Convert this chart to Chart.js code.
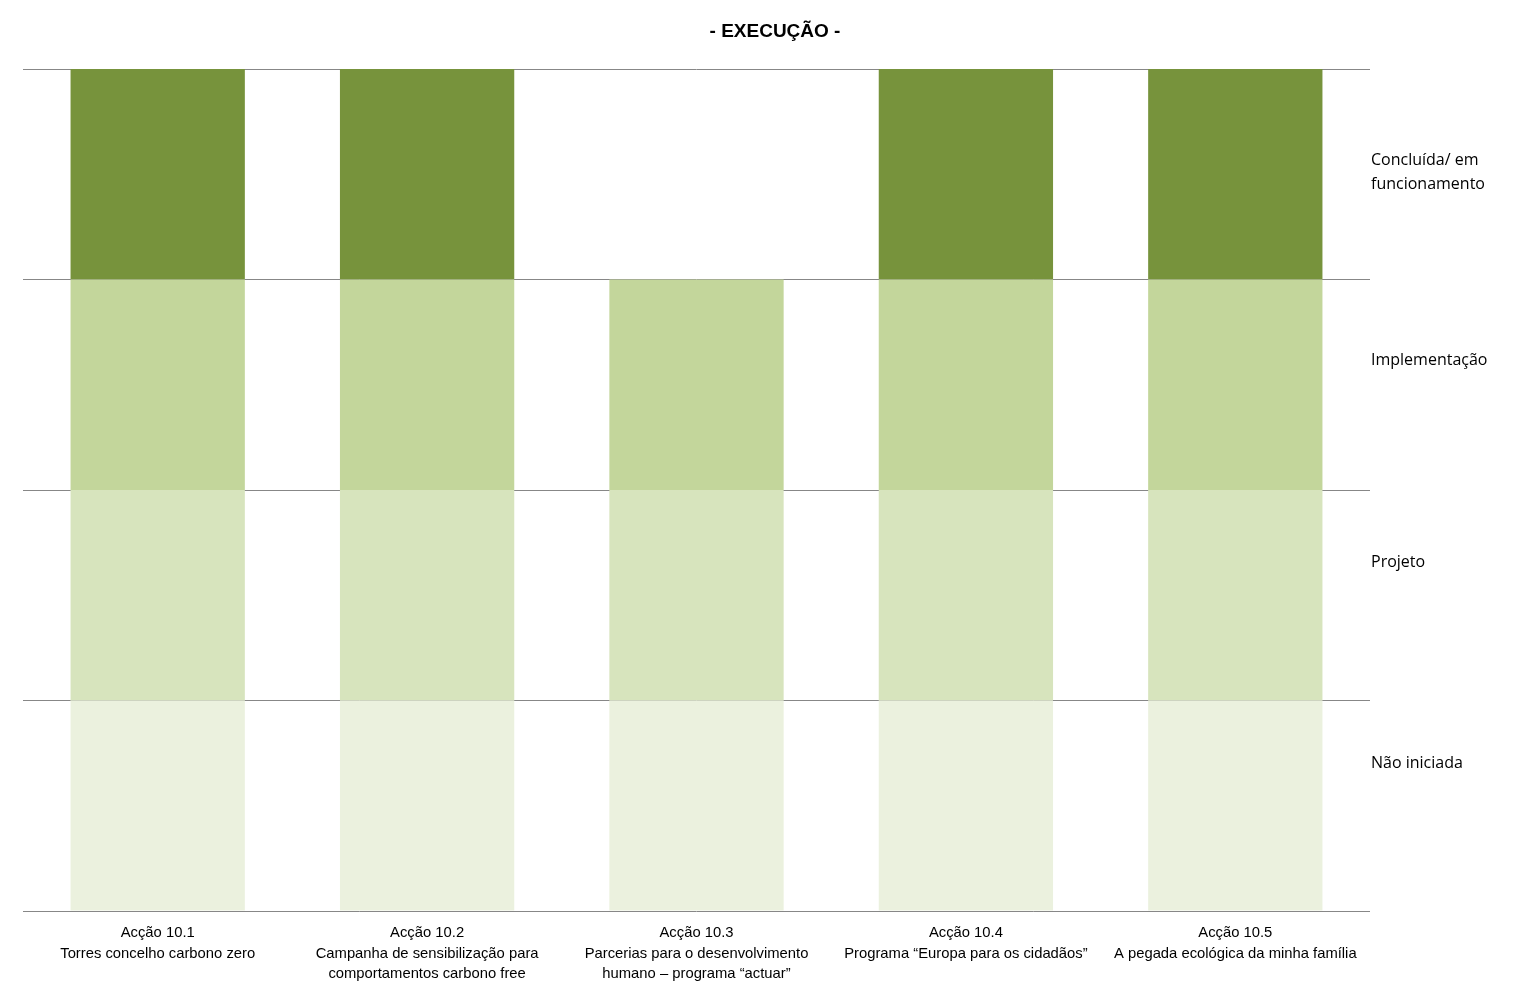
<!DOCTYPE html>
<html>
<head>
<meta charset="utf-8">
<script src="https://cdn.jsdelivr.net/npm/chart.js@4.4.0/dist/chart.umd.min.js"></script>
<style>
html,body{margin:0;padding:0;background:#fff;overflow:hidden;}
canvas{display:block;}
</style>
</head>
<body>
<canvas id="c" width="1527" height="997"></canvas>
<script>
const categories = [
  ["Acção 10.1", "Torres concelho carbono zero"],
  ["Acção 10.2", "Campanha de sensibilização para", "comportamentos carbono free"],
  ["Acção 10.3", "Parcerias para o desenvolvimento", "humano – programa “actuar”"],
  ["Acção 10.4", "Programa “Europa para os cidadãos”"],
  ["Acção 10.5", "A pegada ecológica da minha família"]
];
const naoIniciada   = [1, 1, 1, 1, 1];
const projeto       = [1, 1, 1, 1, 1];
const implementacao = [1, 1, 1, 1, 1];
const concluida     = [1, 1, 0, 1, 1];

const gridTicks = [0, 1, 2, 3, 4];
const stagePositions = [0.70, 1.655, 2.615, 3.51];
const stageLabels = [["Não iniciada"], ["Projeto"], ["Implementação"], ["Concluída/ em", "funcionamento"]];

const colors = ["#EBF1DE", "#D7E4BD", "#C3D69B", "#77933C"];

Chart.defaults.font.family = "'Liberation Sans', Arial, sans-serif";
Chart.defaults.color = "#000";

new Chart(document.getElementById('c'), {
  type: 'bar',
  data: {
    labels: categories,
    datasets: [
      {label: 'Não iniciada', data: naoIniciada, backgroundColor: colors[0]},
      {label: 'Projeto', data: projeto, backgroundColor: colors[1]},
      {label: 'Implementação', data: implementacao, backgroundColor: colors[2]},
      {label: 'Concluída/ em funcionamento', data: concluida, backgroundColor: colors[3]}
    ]
  },
  options: {
    responsive: false,
    animation: false,
    devicePixelRatio: 1,
    layout: {padding: {left: 23, right: 0, top: 0, bottom: 0}},
    datasets: {bar: {barPercentage: 0.647, categoryPercentage: 1, borderWidth: 0}},
    plugins: {
      legend: {display: false},
      tooltip: {enabled: false},
      title: {
        display: true,
        text: '- EXECUÇÃO -',
        font: {size: 19, weight: 'bold', lineHeight: 1.2},
        color: '#000',
        padding: {top: 20, bottom: 26.2}
      }
    },
    scales: {
      x: {
        stacked: true,
        grid: {display: false, drawTicks: false},
        border: {display: false},
        ticks: {
          maxRotation: 0, minRotation: 0, autoSkip: false,
          font: {size: 14.8, lineHeight: 1.38},
          padding: 12,
          color: '#000'
        },
        afterFit: s => { s.height = 86; }
      },
      y: {
        stacked: true,
        position: 'right',
        min: 0, max: 4,
        border: {display: false},
        grid: {
          drawTicks: false,
          color: ctx => (ctx.tick && Number.isInteger(ctx.tick.value)) ? '#878787' : 'rgba(0,0,0,0)',
          lineWidth: 1
        },
        afterBuildTicks: s => {
          const vals = gridTicks.concat(stagePositions).sort((a, b) => a - b);
          s.ticks = vals.map(v => ({value: v}));
        },
        ticks: {
          autoSkip: false,
          crossAlign: 'near',
          padding: 1,
          font: {family: "'Open Sans', 'Noto Sans', sans-serif", size: 16, lineHeight: 1.5},
          color: '#000',
          callback: v => {
            const i = stagePositions.indexOf(v);
            return i >= 0 ? stageLabels[i] : '';
          }
        },
        afterFit: s => { s.width = 157; }
      }
    }
  }
});
</script>
</body>
</html>
